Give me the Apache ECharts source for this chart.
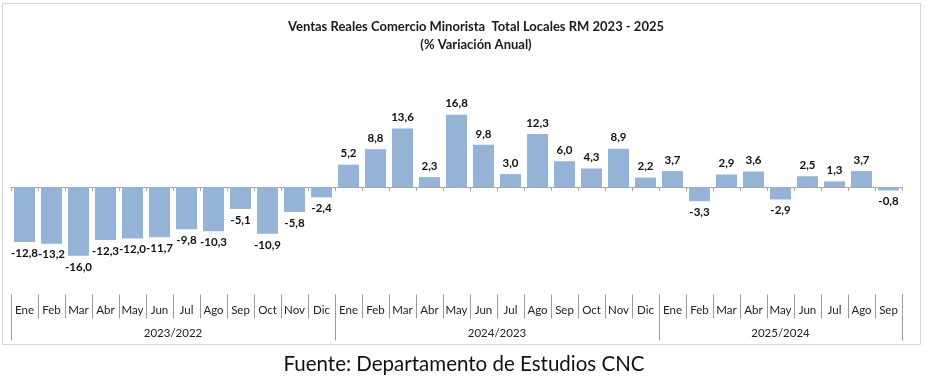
<!DOCTYPE html>
<html><head><meta charset="utf-8">
<script src="https://cdn.jsdelivr.net/npm/echarts@6/dist/echarts.min.js"></script>
<style>html,body{margin:0;padding:0;background:#fff}#c{width:926px;height:379px}</style>
</head><body><div id="c"></div>
<script>
const months = ['Ene','Feb','Mar','Abr','May','Jun','Jul','Ago','Sep','Oct','Nov','Dic',
  'Ene','Feb','Mar','Abr','May','Jun','Jul','Ago','Sep','Oct','Nov','Dic',
  'Ene','Feb','Mar','Abr','May','Jun','Jul','Ago','Sep'];
const values = [-12.8,-13.2,-16.0,-12.3,-12.0,-11.7,-9.8,-10.3,-5.1,-10.9,-5.8,-2.4,
  5.2,8.8,13.6,2.3,16.8,9.8,3.0,12.3,6.0,4.3,8.9,2.2,
  3.7,-3.3,2.9,3.6,-2.9,2.5,1.3,3.7,-0.8];
const groupLabels = ['2023/2022','2024/2023','2025/2024'];
const groupCounts = [12,12,9];
const title = 'Ventas Reales Comercio Minorista  Total Locales RM 2023 - 2025';
const subtitle = '(% Variación Anual)';
const source = 'Fuente: Departamento de Estudios CNC';

const FONT = 'Lato';
const groupData = [];
let s = 0;
groupCounts.forEach((c,i)=>{ groupData.push([s, s+c-1, i]); s += c; });

const chart = echarts.init(document.getElementById('c'));
chart.setOption({
  animation:false,
  textStyle:{fontFamily:FONT},
  graphic:[
    {type:'rect',shape:{x:2.5,y:3.5,width:918,height:341},style:{fill:'none',stroke:'#d4d4d4',lineWidth:1},silent:true,z:-1},
    {type:'text',x:476,y:27,style:{text:title,font:'bold 13px '+FONT,fill:'#1a1a1a',textAlign:'center',textVerticalAlign:'middle'}},
    {type:'text',x:476,y:45,style:{text:subtitle,font:'bold 13px '+FONT,fill:'#1a1a1a',textAlign:'center',textVerticalAlign:'middle'}},
    {type:'text',x:464,y:364,style:{text:source,font:'20.5px '+FONT,fill:'#111',textAlign:'center',textVerticalAlign:'middle'}}
  ],
  grid:{left:11,right:24,top:79.5,height:215,containLabel:false},
  xAxis:[
    {type:'category',data:months,axisLine:{onZero:true,lineStyle:{color:'#a6a6a6'}},
     axisTick:{show:true,interval:0,length:4,lineStyle:{color:'#a6a6a6'}},axisLabel:{show:false},splitLine:{show:false}},
    {type:'category',data:months,position:'bottom',axisLine:{show:false},
     axisTick:{show:true,interval:0,length:24,lineStyle:{color:'#9a9a9a'}},
     axisLabel:{show:true,interval:0,margin:10,fontSize:11.5,color:'#222',fontFamily:FONT}}
  ],
  yAxis:{type:'value',min:-25,max:25,show:false,splitLine:{show:false}},
  series:[
    {type:'bar',data:values.map(v=>({value:v,label:{position:v<0?'bottom':'top'}})),
     barCategoryGap:'22%',itemStyle:{color:'#95B3D7'},
     label:{show:true,distance:5,fontSize:11.5,fontWeight:'bold',color:'#111',fontFamily:FONT,
       formatter:p=>p.value.toFixed(1).replace('.',',')}},
    {type:'custom',data:groupData,silent:true,clip:false,xAxisIndex:0,
     encode:{x:[0,1]},
     renderItem:(params,api)=>{
       const a=api.value(0), b=api.value(1), gi=api.value(2);
       const bw=api.size([1,0])[0];
       const x0=api.coord([a,0])[0]-bw/2, x1=api.coord([b,0])[0]+bw/2;
       const yb=api.coord([0,-25])[1];
       const children=[
         {type:'line',shape:{x1:Math.round(x0)+0.5,y1:yb,x2:Math.round(x0)+0.5,y2:yb+46},style:{stroke:'#9a9a9a',lineWidth:1}},
         {type:'text',x:(x0+x1)/2,y:yb+39,style:{text:groupLabels[gi],font:'11.5px '+FONT,fill:'#222',textAlign:'center',textVerticalAlign:'middle'}}
       ];
       if(gi===groupLabels.length-1){
         children.push({type:'line',shape:{x1:Math.round(x1)+0.5,y1:yb,x2:Math.round(x1)+0.5,y2:yb+46},style:{stroke:'#9a9a9a',lineWidth:1}});
       }
       return {type:'group',children};
     }}
  ]
});
</script></body></html>
